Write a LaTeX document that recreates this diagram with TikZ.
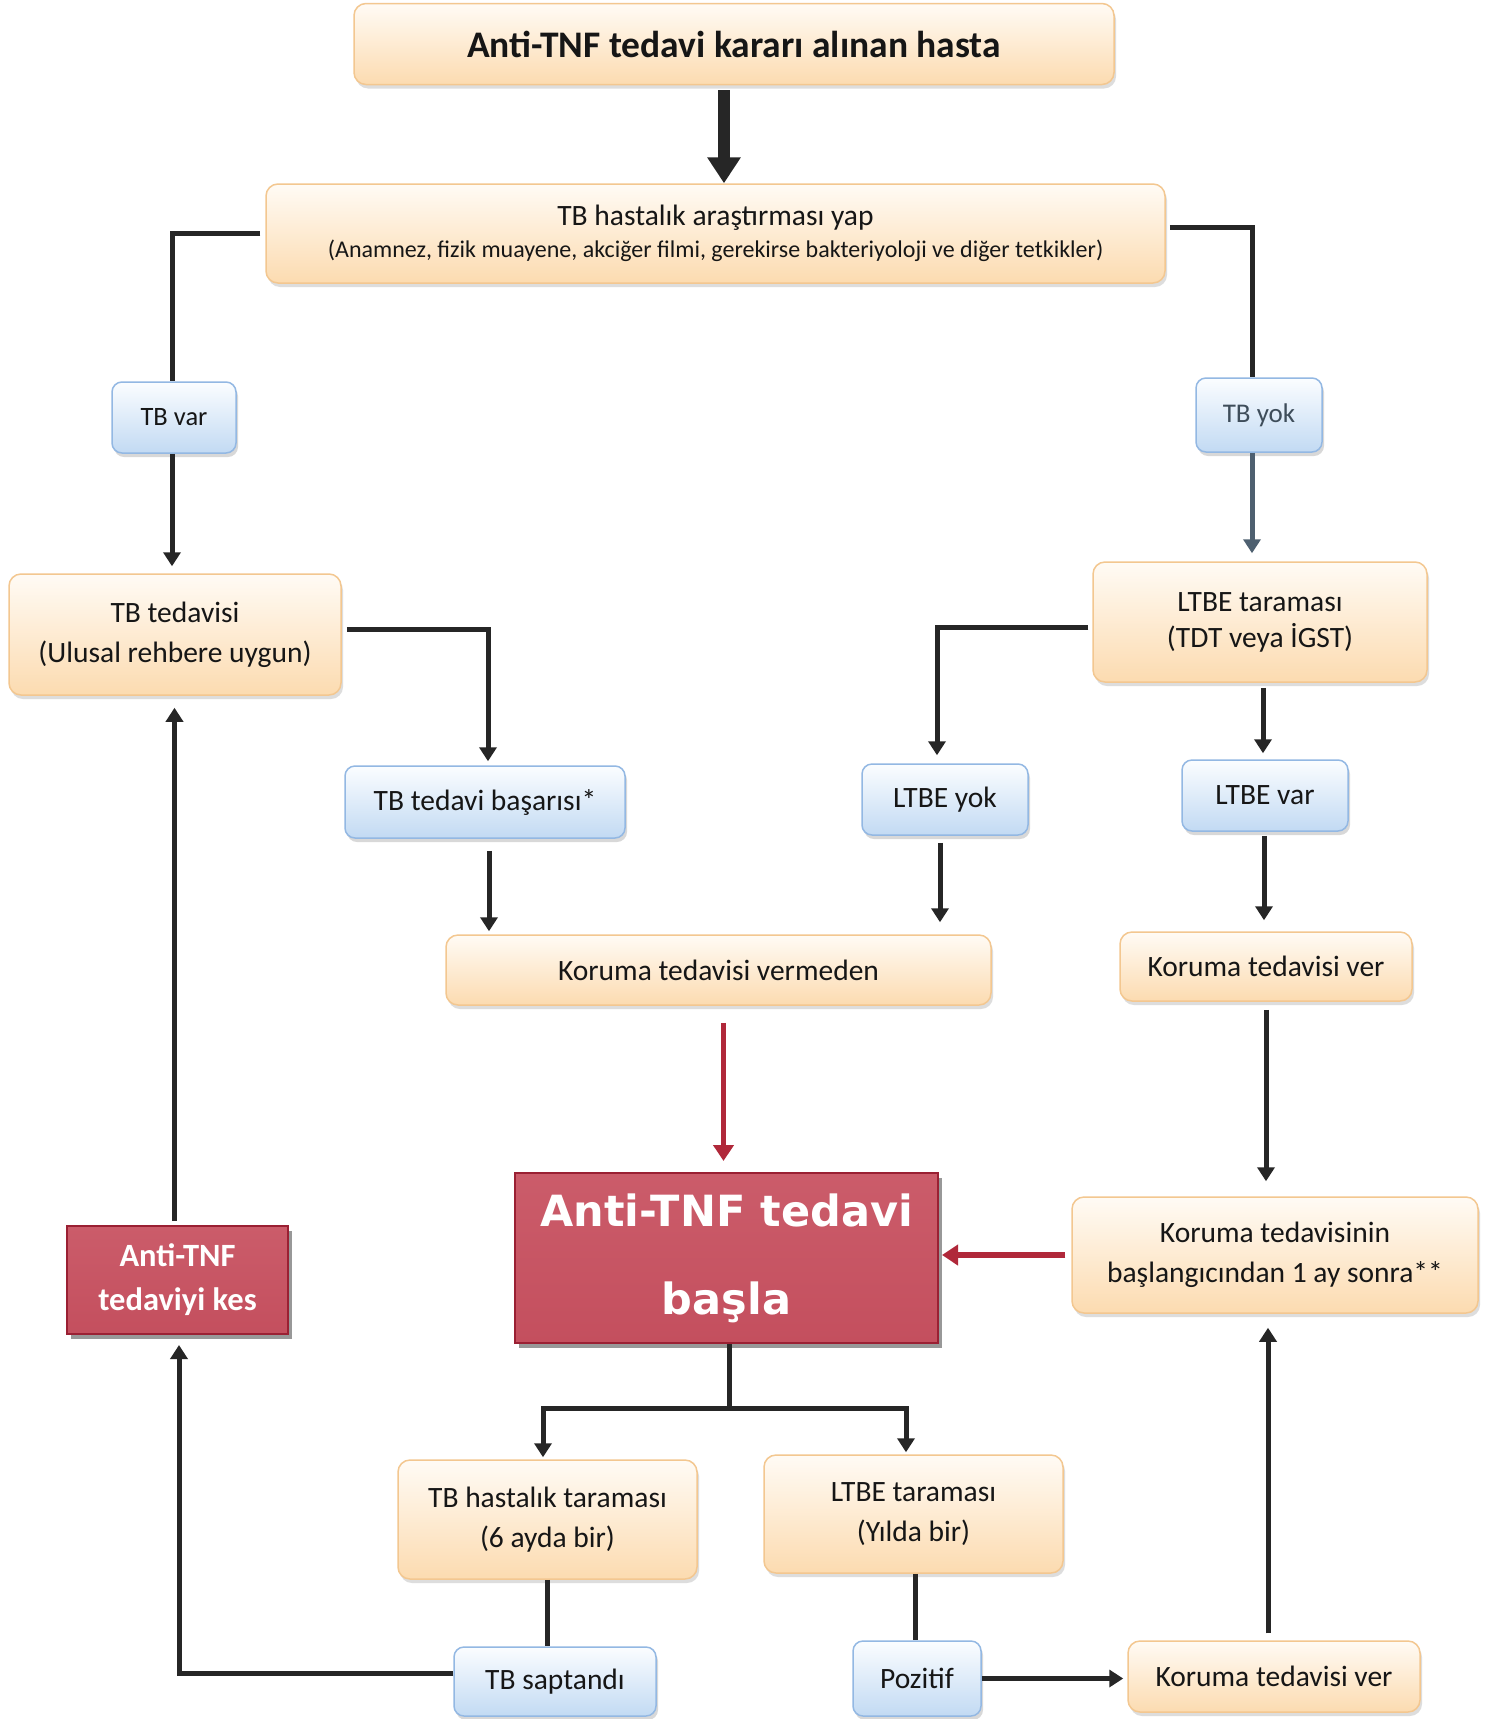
\documentclass[tikz,border=0pt]{standalone}
\usepackage{fontspec}
\setmainfont{Carlito}
\newfontfamily\verdanalike{DejaVu Sans}
\usetikzlibrary{arrows.meta,shadows,calc}
\definecolor{orbord}{HTML}{F3C790}
\definecolor{ortop}{HTML}{FFFBF5}
\definecolor{orbot}{HTML}{FCDBB0}
\definecolor{blbord}{HTML}{93B8E3}
\definecolor{bltop}{HTML}{FBFDFF}
\definecolor{blbot}{HTML}{C2DAF3}
\definecolor{redtop}{HTML}{CB5C6A}
\definecolor{redmid}{HTML}{B02D3E}
\definecolor{redbot}{HTML}{C44F5E}
\definecolor{redbord}{HTML}{9A2033}
\definecolor{linec}{HTML}{262626}
\definecolor{slate}{HTML}{4E6070}
\definecolor{redarr}{HTML}{B0283A}
\definecolor{txt}{HTML}{161616}
\tikzset{
  x=1pt, y=-1pt,
  base/.style={align=center, inner sep=0pt, text=txt},
  obox/.style={base, rounded corners=12pt, draw=orbord, line width=1.5pt,
     top color=ortop, bottom color=orbot,
     drop shadow={shadow xshift=2pt, shadow yshift=-4pt, opacity=0.22, fill=black!60}},
  bbox/.style={base, rounded corners=10pt, draw=blbord, line width=1.5pt,
     top color=bltop, bottom color=blbot,
     drop shadow={shadow xshift=2pt, shadow yshift=-4pt, opacity=0.25, fill=black!60}},
  rbox/.style={base, text=white, draw=redbord, line width=2pt,
     top color=redtop, middle color=redmid, bottom color=redbot,
     drop shadow={shadow xshift=4pt, shadow yshift=-5pt, opacity=0.5, fill=black!80}},
  wh/.style 2 args={minimum width=#1pt, minimum height=#2pt},
  fnt/.style={font=\fontsize{#1pt}{\dimexpr #1pt*5/4\relax}\selectfont},
  conn/.style={draw=linec, line width=5pt},
  arr/.style={conn, -{Triangle[width=17pt,length=14pt]}},
  slatearr/.style={draw=slate, line width=5pt, -{Triangle[width=17pt,length=14pt]}},
  redar/.style={draw=redarr, line width=5.5pt, -{Triangle[width=20pt,length=16pt]}},
  bigarr/.style={draw=linec, line width=12pt, -{Triangle[width=32pt,length=26pt]}},
}
\begin{document}
\begin{tikzpicture}
\useasboundingbox[fill=white] (0,0) rectangle (1491,1719);

% nodes
\node[obox, wh={760}{81}, font=\bfseries\fontsize{37.5pt}{44pt}\selectfont] (top) at (734,44) {Anti-TNF tedavi kararı alınan hasta};
\node[obox, wh={899}{99}, font=\fontsize{24pt}{32pt}\selectfont] (arastir) at (715.5,233.5)
  {{\fontsize{29.5pt}{32pt}\selectfont TB hastalık araştırması yap}\\
   (Anamnez, fizik muayene, akciğer filmi, gerekirse bakteriyoloji ve diğer tetkikler)};
\node[bbox, wh={124}{71}, fnt=26.5] (tbvar) at (174,417.5) {TB var};
\node[bbox, wh={126}{74}, fnt=27, text=slate!80!black] (tbyok) at (1259,415) {TB yok};
\node[obox, wh={332}{121}, fnt=29.5] (tbted) at (175,634.5) {TB tedavisi\\[3.5pt](Ulusal rehbere uygun)};
\node[obox, wh={334}{120}, fnt=29.5] (ltbe1) at (1260,622) {LTBE taraması\\[-1pt](TDT veya İGST)};
\node[bbox, wh={280}{72}, fnt=29.5] (basari) at (485,802) {TB tedavi başarısı*};
\node[bbox, wh={166}{71}, fnt=29.5] (ltbeyok) at (945,799.5) {LTBE yok};
\node[bbox, wh={166}{71}, fnt=29.5] (ltbevar) at (1265,795.5) {LTBE var};
\node[obox, wh={545}{70}, fnt=29.5] (vermeden) at (718.5,970) {Koruma tedavisi vermeden};
\node[obox, wh={292}{69}, fnt=29.5] (korver1) at (1266,966.5) {Koruma tedavisi ver};
\node[rbox, wh={423}{170}, font=\verdanalike\bfseries\fontsize{43pt}{50pt}\selectfont] (basla) at (726.5,1258) {Anti-TNF tedavi\\[38pt]başla};
\node[obox, wh={406}{116}, fnt=29.5] (korbas) at (1275,1255) {Koruma tedavisinin\\[3.5pt]başlangıcından 1 ay sonra**};
\node[rbox, wh={221}{108}, font=\bfseries\fontsize{32.5pt}{40pt}\selectfont] (kes) at (177.5,1280) {Anti-TNF\\[4pt]tedaviyi kes};
\node[obox, wh={299}{119}, fnt=29.5] (tbtar) at (547.5,1519.5) {TB hastalık taraması\\[3.5pt](6 ayda bir)};
\node[obox, wh={299}{118}, fnt=29.5] (ltbe2) at (913.5,1514) {LTBE taraması\\[3.5pt](Yılda bir)};
\node[bbox, wh={202}{69}, fnt=29.5] (saptandi) at (555,1681.5) {TB saptandı};
\node[bbox, wh={128}{75}, fnt=29.5] (pozitif) at (917,1678.5) {Pozitif};
\node[obox, wh={292}{71}, fnt=29.5] (korver2) at (1274,1676.5) {Koruma tedavisi ver};

% connectors
\draw[bigarr, shorten <=5pt] ([xshift=-10pt]top.south) -- ([xshift=-10pt]top.south |- arastir.north);
\draw[conn, shorten <=5pt] (arastir.west) -| ([xshift=-2pt]tbvar.north);
\draw[conn, shorten <=4pt] ([yshift=6pt]arastir.east) -| ([xshift=-7pt]tbyok.north);
\draw[arr, shorten >=7pt] ([xshift=-2pt]tbvar.south) -- ([xshift=-2pt]tbvar.south |- tbted.north);
\draw[slatearr, shorten >=8pt] ([xshift=-7pt]tbyok.south) -- ([xshift=-7pt]tbyok.south |- ltbe1.north);
\draw[arr, shorten <=5pt, shorten >=4pt] ([yshift=5pt]tbted.east) -| ([xshift=3pt]basari.north);
\draw[arr, shorten <=4pt, shorten >=8pt] ([yshift=-5pt]ltbe1.west) -| ([xshift=-8pt]ltbeyok.north);
\draw[arr, shorten <=5pt, shorten >=6pt] ([xshift=3pt]ltbe1.south) -- ([xshift=3pt]ltbe1.south |- ltbevar.north);
\draw[arr, shorten <=12pt, shorten >=3pt] ([xshift=4pt]basari.south) -- ([xshift=4pt]basari.south |- vermeden.north);
\draw[arr, shorten <=7pt, shorten >=12pt] ([xshift=-5pt]ltbeyok.south) -- ([xshift=-5pt]ltbeyok.south |- vermeden.north);
\draw[arr, shorten <=4pt, shorten >=11pt] ([xshift=-1pt]ltbevar.south) -- ([xshift=-1pt]ltbevar.south |- korver1.north);
\draw[redar, shorten <=17pt, shorten >=11pt] ([xshift=5pt]vermeden.south) -- ([xshift=5pt]vermeden.south |- basla.north);
\draw[arr, shorten <=8pt, shorten >=15pt] (korver1.south) -- (korver1.south |- korbas.north);
\draw[redar, shorten <=6pt, shorten >=3pt] (korbas.west) -- (korbas.west -| basla.east);
\draw[arr, shorten <=4pt, shorten >=12pt] ([xshift=-3pt]kes.north) -- ([xshift=-3pt]kes.north |- tbted.south);
\coordinate (split) at ($(basla.south)+(2.5,64)$);
\draw[conn] ([xshift=2.5pt]basla.south) -- (split);
\draw[arr, shorten >=2pt] (split) -| ([xshift=-4.5pt]tbtar.north);
\draw[arr, shorten >=2pt] (split) -| ([xshift=-7.5pt]ltbe2.north);
\draw[conn] (tbtar.south) -- (tbtar.south |- saptandi.north);
\draw[arr, shorten >=10pt] ([yshift=8.5pt]saptandi.west) -| ([xshift=1.5pt]kes.south);
\draw[conn] ([xshift=1.5pt]ltbe2.south) -- ([xshift=1.5pt]ltbe2.south |- pozitif.north);
\draw[arr, shorten >=4pt] (pozitif.east) -- (pozitif.east -| korver2.west);
\draw[arr, shorten <=7pt, shorten >=14pt] ([xshift=-6pt]korver2.north) -- ([xshift=-6pt]korver2.north |- korbas.south);
\end{tikzpicture}
\end{document}
